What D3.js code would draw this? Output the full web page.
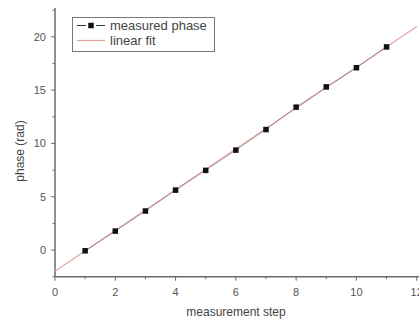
<!DOCTYPE html>
<html>
<head>
<meta charset="utf-8">
<script src="https://cdn.jsdelivr.net/npm/d3@7"></script>
<style>
  body { margin: 0; background: #fff; }
  svg { display: block; font-family: "Liberation Sans", Arial, sans-serif; }
  .tickLabel { fill: #555; font-size: 11px; }
  .axisTitle { fill: #444; font-size: 12px; }
  .legendText { fill: #444; font-size: 13px; }
</style>
</head>
<body>
<svg id="chart" width="419" height="320"></svg>
<script>
// measured phase per step
const steps = [1, 2, 3, 4, 5, 6, 7, 8, 9, 10, 11];
const phase = [-0.07, 1.78, 3.66, 5.62, 7.47, 9.37, 11.3, 13.4, 15.3, 17.1, 19.05];

// linear fit end points
const fitX = [0, 12];
const fitY = [-2.0, 20.97];

const xTicks = [0, 2, 4, 6, 8, 10, 12];
const xMinor = [1, 3, 5, 7, 9, 11];
const yTicks = [0, 5, 10, 15, 20];
const yMinor = [-2.5, 2.5, 7.5, 12.5, 17.5, 22.5];

const svg = d3.select('#chart');

const xScale = d3.scaleLinear().domain([0, 12]).range([55, 416.7]);
const yScale = d3.scaleLinear().domain([-2.5, 22.7]).range([276.7, 8]);

const axisColor = '#6a6a6a';

// axis lines
svg.append('line')
  .attr('x1', xScale(0)).attr('x2', xScale(0))
  .attr('y1', yScale.range()[1]).attr('y2', yScale.range()[0])
  .attr('stroke', axisColor).attr('stroke-width', 1.5);
svg.append('line')
  .attr('x1', xScale(0)).attr('x2', 419)
  .attr('y1', yScale(-2.5)).attr('y2', yScale(-2.5))
  .attr('stroke', axisColor).attr('stroke-width', 1.5);

// x ticks
const x0 = yScale(-2.5);
svg.selectAll('line.xMajor').data(xTicks).enter().append('line')
  .attr('class', 'xMajor')
  .attr('x1', (d) => xScale(d)).attr('x2', (d) => xScale(d))
  .attr('y1', x0).attr('y2', x0 + 4)
  .attr('stroke', axisColor);
svg.selectAll('line.xMinor').data(xMinor).enter().append('line')
  .attr('class', 'xMinor')
  .attr('x1', (d) => xScale(d)).attr('x2', (d) => xScale(d))
  .attr('y1', x0).attr('y2', x0 + 2.5)
  .attr('stroke', axisColor);
svg.selectAll('text.xLabel').data(xTicks).enter().append('text')
  .attr('class', 'tickLabel')
  .attr('x', (d) => xScale(d)).attr('y', 296)
  .attr('text-anchor', 'middle')
  .text((d) => d);

// y ticks
const y0 = xScale(0);
svg.selectAll('line.yMajor').data(yTicks).enter().append('line')
  .attr('class', 'yMajor')
  .attr('x1', y0).attr('x2', y0 - 4)
  .attr('y1', (d) => yScale(d)).attr('y2', (d) => yScale(d))
  .attr('stroke', axisColor);
svg.selectAll('line.yMinor').data(yMinor).enter().append('line')
  .attr('class', 'yMinor')
  .attr('x1', y0).attr('x2', y0 - 2.5)
  .attr('y1', (d) => yScale(d)).attr('y2', (d) => yScale(d))
  .attr('stroke', axisColor);
svg.selectAll('text.yLabel').data(yTicks).enter().append('text')
  .attr('class', 'tickLabel')
  .attr('x', 46).attr('y', (d) => yScale(d) + 4)
  .attr('text-anchor', 'end')
  .text((d) => d);

// axis titles
svg.append('text')
  .attr('class', 'axisTitle')
  .attr('x', 236).attr('y', 316)
  .attr('text-anchor', 'middle')
  .text('measurement step');
svg.append('text')
  .attr('class', 'axisTitle')
  .attr('transform', 'translate(24,151) rotate(-90)')
  .attr('text-anchor', 'middle')
  .text('phase (rad)');

// linear fit
const line = d3.line().x((d) => xScale(d[0])).y((d) => yScale(d[1]));
svg.append('path')
  .datum(d3.zip(fitX, fitY))
  .attr('d', line)
  .attr('fill', 'none')
  .attr('stroke', '#e3a3a3')
  .attr('stroke-width', 1.2);

// measured phase
const pts = d3.zip(steps, phase);
svg.append('path')
  .datum(pts)
  .attr('d', line)
  .attr('fill', 'none')
  .attr('stroke', '#555')
  .attr('stroke-opacity', 0.6)
  .attr('stroke-width', 0.8);
svg.selectAll('rect.pt').data(pts).enter().append('rect')
  .attr('class', 'pt')
  .attr('x', (d) => xScale(d[0]) - 2.75).attr('y', (d) => yScale(d[1]) - 2.75)
  .attr('width', 5.5).attr('height', 5.5)
  .attr('fill', '#111');

// legend
const legend = svg.append('g').attr('class', 'legend');
legend.append('rect')
  .attr('x', 72.5).attr('y', 17.5)
  .attr('width', 142).attr('height', 34)
  .attr('fill', 'none').attr('stroke', '#777');
legend.append('line')
  .attr('x1', 77).attr('x2', 86).attr('y1', 25.5).attr('y2', 25.5)
  .attr('stroke', '#333');
legend.append('line')
  .attr('x1', 96).attr('x2', 105).attr('y1', 25.5).attr('y2', 25.5)
  .attr('stroke', '#333');
legend.append('rect')
  .attr('x', 88.25).attr('y', 22.75).attr('width', 5.5).attr('height', 5.5)
  .attr('fill', '#111');
legend.append('line')
  .attr('x1', 77).attr('x2', 105).attr('y1', 40.5).attr('y2', 40.5)
  .attr('stroke', '#e3a3a3').attr('stroke-width', 1.2);
legend.append('text').attr('class', 'legendText')
  .attr('x', 110).attr('y', 30).text('measured phase');
legend.append('text').attr('class', 'legendText')
  .attr('x', 110).attr('y', 45).text('linear fit');
</script>
</body>
</html>
